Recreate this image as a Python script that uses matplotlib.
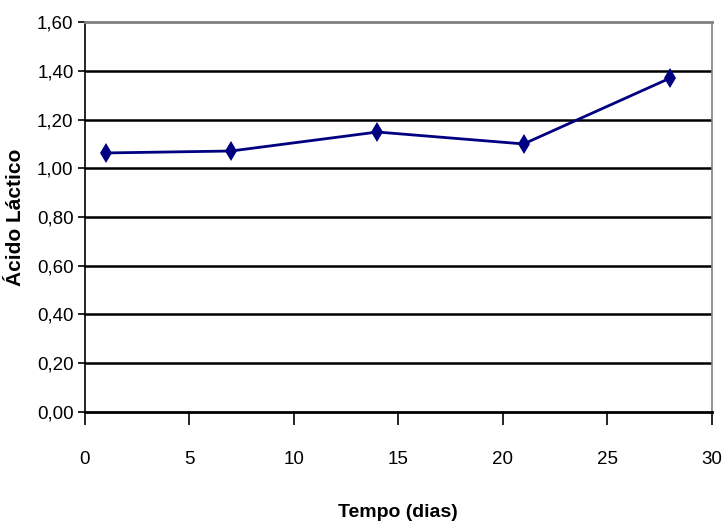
import matplotlib
matplotlib.use('Agg')
import matplotlib.pyplot as plt
from matplotlib.ticker import MultipleLocator, FuncFormatter

# Lactic acid over storage time
dias = [1, 7, 14, 21, 28]
acido = [1.063, 1.071, 1.149, 1.100, 1.370]

sans = ['Liberation Sans', 'DejaVu Sans']

fig = plt.figure(figsize=(7.24, 5.28), dpi=100)
ax = fig.add_axes([0.117, 0.22, 0.866, 0.738])

for y in [0.2, 0.4, 0.6, 0.8, 1.0, 1.2, 1.4]:
    ax.axhline(y, color='black', lw=1.8, zorder=1)

ax.plot(dias, acido, color='#000080', lw=2, marker='d', markersize=10,
        markeredgewidth=0, zorder=3)

ax.set_xlim(0, 30)
ax.set_ylim(0, 1.6)
ax.xaxis.set_major_locator(MultipleLocator(5))
ax.yaxis.set_major_locator(MultipleLocator(0.2))
ax.yaxis.set_major_formatter(FuncFormatter(lambda v, p: f'{v:.2f}'.replace('.', ',')))

ax.spines['left'].set_color('black')
ax.spines['left'].set_linewidth(1.2)
ax.spines['bottom'].set_color('black')
ax.spines['bottom'].set_linewidth(2)
ax.spines['top'].set_color('#808080')
ax.spines['top'].set_linewidth(2)
ax.spines['right'].set_color('#808080')
ax.spines['right'].set_linewidth(1.2)

ax.tick_params(axis='y', direction='out', length=5, width=1.2, pad=3)
ax.tick_params(axis='x', direction='out', length=9, width=1.2, pad=19)
for lbl in ax.get_xticklabels() + ax.get_yticklabels():
    lbl.set_family(sans)
    lbl.set_fontsize(13.5)

ax.set_xlabel('Tempo (dias)', family=sans, fontsize=14, fontweight='bold', labelpad=26)
ax.set_ylabel('Ácido Láctico', family=sans, fontsize=15, fontweight='bold')
ax.yaxis.set_label_coords(-0.095, 0.5)

fig.savefig('out.png', dpi=100)
